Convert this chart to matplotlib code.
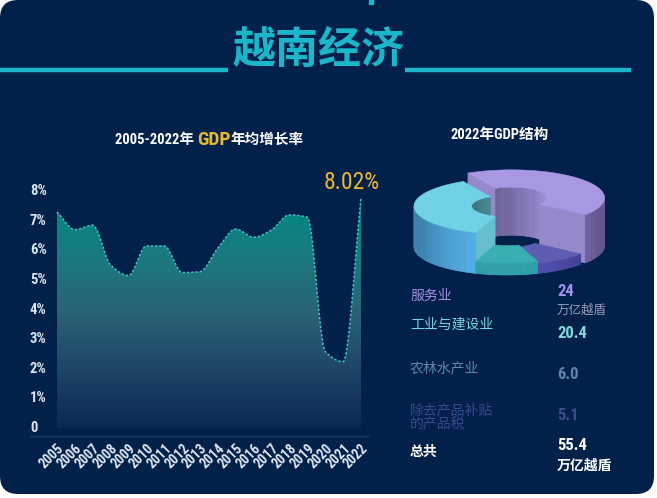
import numpy as np
import matplotlib
matplotlib.use("Agg")
import matplotlib.pyplot as plt
from matplotlib import font_manager
from matplotlib.collections import PolyCollection
from matplotlib.colors import LinearSegmentedColormap, to_rgb
from matplotlib.patches import FancyBboxPatch, Polygon, Rectangle
from matplotlib.transforms import blended_transform_factory

# GDP growth rate (%)
years = list(range(2005, 2023))
growth = [7.3, 6.7, 6.85, 5.5, 5.15, 6.15, 6.15, 5.25, 5.28, 6.08,
          6.72, 6.44, 6.69, 7.2, 7.12, 2.58, 2.24, 7.75]
ytick_vals = list(range(9))
ytick_text = ["0"] + [f"{v}%" for v in range(1, 9)]
last_label = "8.02%"

# 2022 GDP structure
sectors = ["服务业", "工业与建设业", "农林水产业", "除去产品补贴\n的产品税"]
gdp = [24, 20.4, 6.0, 5.1]
gdp_text = ["24", "20.4", "6.0", "5.1"]
unit = "万亿越盾"
total_name = "总共"
total_text = "55.4"

BG = "#02214a"
CYAN = "#1cb6ca"
GOLD = "#ebb632"
CJK = ['Noto Sans CJK SC', 'DejaVu Sans']
plt.rcParams['font.family'] = CJK


# a condensed face for the numbers, whatever is installed
def pick_narrow():
    fl = font_manager.fontManager.ttflist
    names = {f.name for f in fl}
    for pref in ['Liberation Sans Narrow', 'Roboto Condensed',
                 'Open Sans Condensed', 'Noto Sans Condensed',
                 'DejaVu Sans Condensed']:
        if pref in names:
            return pref, 'normal'
    for f in fl:
        if f.name == 'DejaVu Sans' and f.stretch in ('condensed',
                                                     'semi-condensed', 600):
            return 'DejaVu Sans', 'condensed'
    for f in fl:
        if 'Condensed' in f.name or 'Narrow' in f.name:
            return f.name, 'normal'
    return 'Roboto', 'normal'


narrow, STRETCH = pick_narrow()
NUM = [narrow, 'Noto Sans CJK SC', 'DejaVu Sans']

W, H = 657, 498
fig = plt.figure(figsize=(W / 100, H / 100), dpi=100, facecolor='white')

# full-figure overlay in pixel units
bg = fig.add_axes([0, 0, 1, 1], zorder=0)
bg.set_xlim(0, W)
bg.set_ylim(H, 0)
bg.axis('off')
bg.add_patch(FancyBboxPatch((0, 0), 654, 494,
                            boxstyle="round,pad=0,rounding_size=18",
                            fc=BG, ec='none'))
bg.add_patch(Rectangle((369, 0), 4, 4, color=CYAN))
bg.plot([0, 228], [70, 70], color=CYAN, lw=3.2, solid_capstyle='butt')
bg.plot([405, 631], [70, 70], color=CYAN, lw=3.2, solid_capstyle='butt')
bg.text(318, 50, "越南经济", fontsize=31, fontweight='bold', color=CYAN,
        ha='center', va='center')

# subtitle of the line chart, chained pieces
renderer = fig.canvas.get_renderer()
inv = bg.transData.inverted()
xpos = 115
for txt, col, fs in [("2005-2022年 ", 'white', 10.5), ("GDP", GOLD, 14),
                     ("年均增长率", 'white', 10.5)]:
    t = bg.text(xpos, 140, txt, color=col, fontsize=fs, fontweight='bold',
                family=NUM, fontstretch=STRETCH, ha='left', va='center')
    bb = t.get_window_extent(renderer)
    xpos = inv.transform((bb.x1, 0))[0]

bg.text(500, 135, "2022年GDP结构", color='white', fontsize=10.5,
        fontweight='bold', family=NUM, fontstretch=STRETCH,
        ha='center', va='center')


# monotone cubic, only used to draw a smooth line through the points
def smooth(x, y, n=600):
    x = np.asarray(x, float)
    y = np.asarray(y, float)
    h = np.diff(x)
    d = np.diff(y) / h
    m = np.zeros_like(y)
    m[0], m[-1] = d[0], d[-1]
    for i in range(1, len(y) - 1):
        if d[i - 1] * d[i] > 0:
            w1 = 2 * h[i] + h[i - 1]
            w2 = h[i] + 2 * h[i - 1]
            m[i] = (w1 + w2) / (w1 / d[i - 1] + w2 / d[i])
    xs = np.linspace(x[0], x[-1], n)
    idx = np.clip(np.searchsorted(x, xs) - 1, 0, len(h) - 1)
    t = (xs - x[idx]) / h[idx]
    h00 = 2 * t**3 - 3 * t**2 + 1
    h10 = t**3 - 2 * t**2 + t
    h01 = -2 * t**3 + 3 * t**2
    h11 = t**3 - t**2
    ys = (h00 * y[idx] + h10 * h[idx] * m[idx] + h01 * y[idx + 1]
          + h11 * h[idx] * m[idx + 1])
    return xs, ys


# line chart
px_year, px_pct = 17.88, 29.6
ax = fig.add_axes([30 / W, (H - 436) / H, 338 / W, (436 - 179) / H], zorder=1)
ax.patch.set_alpha(0)
xs, ys = smooth(years, growth)
cmap = LinearSegmentedColormap.from_list(
    'fill', [(0, '#0b2853'), (0.25, '#1d4568'), (0.5, '#2a6276'),
             (0.75, '#1a7a80'), (1, '#008a80')])
grad = np.linspace(0, 1, 256).reshape(-1, 1)
img = ax.imshow(grad, extent=[years[0], years[-1], 0, max(growth)],
                origin='lower', aspect='auto', cmap=cmap, zorder=1)
clip = Polygon(np.column_stack([np.r_[xs, xs[-1], xs[0]],
                                np.r_[ys, 0, 0]]),
               closed=True, fc='none', ec='none', transform=ax.transData)
ax.add_patch(clip)
img.set_clip_path(clip)
ax.plot(xs, ys, color='#45c0c6', lw=1.1, ls=(0, (1.6, 1.2)), zorder=2)
ax.set_xlim(years[0] - 27 / px_year, years[-1] + 7 / px_year)
ax.set_ylim(-8 / px_pct, (428 - 179) / px_pct)

for s in ['top', 'right', 'left']:
    ax.spines[s].set_visible(False)
ax.spines['bottom'].set_color('#1b3966')
ax.spines['bottom'].set_linewidth(1)
ax.set_yticks([])
ax.set_xticks(years)
ax.set_xticklabels([str(y) for y in years], rotation=45, ha='right',
                   rotation_mode='anchor', fontsize=10, fontweight='bold',
                   color='#dde4ef', family=NUM, fontstretch=STRETCH)
ax.tick_params(axis='x', length=0, pad=4)
ytr = blended_transform_factory(ax.transAxes, ax.transData)
for v, lab in zip(ytick_vals, ytick_text):
    ax.text(0, v, lab, transform=ytr, ha='left', va='center', fontsize=10.5,
            fontweight='bold', color='#dde4ef', family=NUM,
            fontstretch=STRETCH)
ax.annotate(last_label, xy=(years[-1], growth[-1]), xytext=(19, 16),
            textcoords='offset pixels', ha='right', va='center',
            fontsize=17, color=GOLD, family=NUM, fontstretch=STRETCH,
            annotation_clip=False)

# 3D donut, drawn in pixel units on the overlay
cx, cy = 507, 247
ra, rb = 93.0, 28.0
rin = 0.38
k_h = 2.0
start = 118.0
pie_order = [0, 3, 2, 1]          # clockwise from the top-left
explode = {0: 6.0}
tops = ['#a897e3', '#70d2e4', '#3aafb3', '#5d5db2']
walls = ['#7d6bb0', '#4d9fd2', '#2c8f98', '#4848a0']

wedges = []
ang = start
for i in pie_order:
    span = 360.0 * gdp[i] / sum(gdp)
    hi, lo = ang, ang - span
    ang = lo
    wedges.append((i, np.radians(lo), np.radians(hi)))


def proj(r, th, z, off):
    return (cx + off[0] + r * ra * np.cos(th),
            cy + off[1] - r * rb * np.sin(th) - z)


def shade(col, f):
    return tuple(np.clip(np.array(to_rgb(col)) * f, 0, 1))


for i, lo, hi in sorted(wedges, key=lambda w: -np.sin((w[1] + w[2]) / 2)):
    h = gdp[i] * k_h
    mid = (lo + hi) / 2
    e = explode.get(i, 0.0)
    off = (e * np.cos(mid), -e * rb / ra * np.sin(mid))
    th = np.linspace(lo, hi, 90)
    polys, cols = [], []
    # inner wall seen through the hole (back half)
    for a, b in zip(th[:-1], th[1:]):
        if np.sin((a + b) / 2) > 0:
            polys.append([proj(rin, a, 0, off), proj(rin, b, 0, off),
                          proj(rin, b, h, off), proj(rin, a, h, off)])
            cols.append(shade(tops[i], 0.75 + 0.2 * np.cos((a + b) / 2)))
    # radial faces turned toward the viewer
    for a, vis in [(lo, np.cos(lo) > 0), (hi, np.cos(hi) < 0)]:
        if vis:
            polys.append([proj(rin, a, 0, off), proj(1, a, 0, off),
                          proj(1, a, h, off), proj(rin, a, h, off)])
            cols.append(shade(tops[i], 0.9))
    # outer wall (front half)
    for a, b in zip(th[:-1], th[1:]):
        s = np.sin((a + b) / 2)
        if s < 0:
            polys.append([proj(1, a, 0, off), proj(1, b, 0, off),
                          proj(1, b, h, off), proj(1, a, h, off)])
            cols.append(shade(walls[i], 0.8 + 0.35 * (-s) ** 2))
    # top face
    top = [proj(1, a, h, off) for a in th] + \
          [proj(rin, a, h, off) for a in th[::-1]]
    polys.append(top)
    cols.append(to_rgb(tops[i]))
    bg.add_collection(PolyCollection(polys, facecolors=cols, edgecolors=cols,
                                     linewidths=0.4))

# legend table
name_cols = ['#a28ee2', '#76d5de', '#5d86ae', '#3b488e']
val_cols = ['#a290ea', '#80d8da', '#5d86ae', '#3f4c92']
name_y = [296, 325, 368, 417]
val_y = [291, 333, 374, 415]
for i in range(len(sectors)):
    bg.text(410, name_y[i], sectors[i], color=name_cols[i], fontsize=10,
            ha='left', va='center', linespacing=1.0)
    bg.text(557, val_y[i], gdp_text[i], color=val_cols[i], fontsize=12,
            fontweight='bold', family=NUM, fontstretch=STRETCH,
            ha='left', va='center')
bg.text(557, 310, unit, color='#9b9bba', fontsize=9, ha='left', va='center')
bg.text(410, 452, total_name, color='white', fontsize=10, fontweight='bold',
        ha='left', va='center')
bg.text(557, 445, total_text, color='white', fontsize=12, fontweight='bold',
        family=NUM, fontstretch=STRETCH, ha='left', va='center')
bg.text(557, 466, unit, color='white', fontsize=10, fontweight='bold',
        ha='left', va='center')

fig.savefig("out.png", dpi=100, facecolor='white')
